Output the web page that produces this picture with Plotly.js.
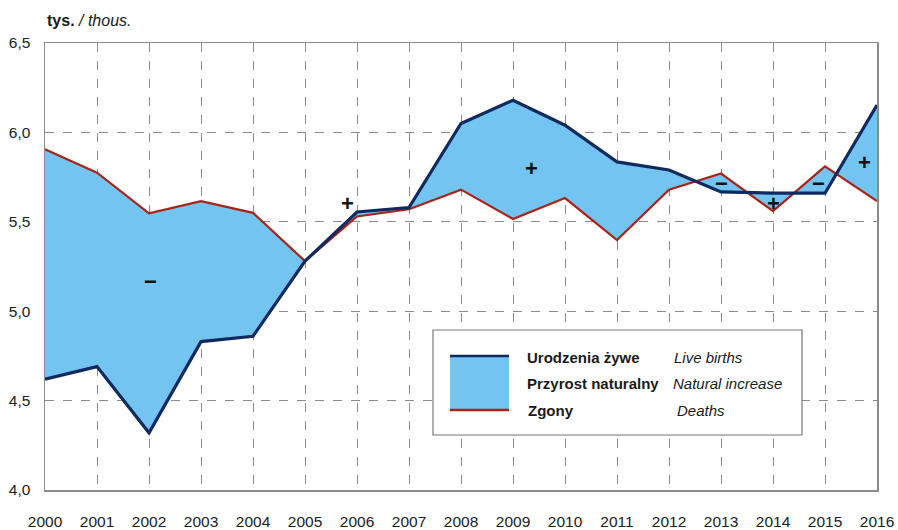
<!DOCTYPE html>
<html><head><meta charset="utf-8">
<script src="https://cdn.plot.ly/plotly-3.0.1.min.js"></script>
<style>html,body{margin:0;padding:0;background:#fff;}#chart{width:898px;height:530px;}</style>
</head><body><div id="chart"></div>
<script>
const years = [2000,2001,2002,2003,2004,2005,2006,2007,2008,2009,2010,2011,2012,2013,2014,2015,2016];
const liveBirths = [4.62,4.69,4.32,4.83,4.86,5.28,5.555,5.58,6.05,6.18,6.04,5.835,5.79,5.667,5.66,5.66,6.153];
const deaths = [5.906,5.775,5.547,5.616,5.55,5.28,5.53,5.57,5.68,5.516,5.633,5.398,5.68,5.77,5.56,5.81,5.616];
const yTicks = [4.0,4.5,5.0,5.5,6.0,6.5];

const FONT = 'Liberation Sans, Arial, sans-serif';
const NAVY = '#0f2a5e', RED = '#a82418', FILL = '#73c4f1';

const traces = [
  {x: years, y: deaths, mode: 'lines', line: {width: 0, color: RED}, hoverinfo: 'skip', showlegend: false},
  {x: years, y: liveBirths, mode: 'lines', fill: 'tonexty', fillcolor: FILL, line: {width: 0, color: NAVY}, hoverinfo: 'skip', showlegend: false},
  {x: years, y: deaths, mode: 'lines', line: {width: 2.2, color: RED}, showlegend: false, cliponaxis: false},
  {x: years, y: liveBirths, mode: 'lines', line: {width: 3.2, color: NAVY}, showlegend: false, cliponaxis: false}
];

const px = v => (v - 45) / 832;
const py = v => (490 - v) / 447;

const sign = (x, y, t) => ({x: x, y: y, xref: 'x', yref: 'y', text: '<b>' + t + '</b>', showarrow: false,
  font: {family: FONT, size: 22, color: '#111'}, xanchor: 'center', yanchor: 'middle'});

const legText = (x, y, t, bold) => ({x: px(x), y: py(y), xref: 'paper', yref: 'paper',
  text: bold ? '<b>' + t + '</b>' : '<i>' + t + '</i>', showarrow: false,
  font: {family: FONT, size: 15, color: '#1a1a1a'}, xanchor: 'left', yanchor: 'middle'});

const layout = {
  width: 898, height: 530,
  margin: {l: 45, r: 21, t: 43, b: 40},
  paper_bgcolor: '#fff', plot_bgcolor: '#fff',
  separators: ', ',
  showlegend: false,
  font: {family: FONT, size: 15, color: '#222'},
  xaxis: {range: [2000, 2016], tickvals: years, ticktext: years.map(String),
    showgrid: true, gridcolor: '#8c8c8c', griddash: 'dash', gridwidth: 1,
    showline: true, linecolor: '#8c8c8c', linewidth: 1.5, mirror: true,
    ticks: '', ticklabelstandoff: 17, zeroline: false,
    tickfont: {family: FONT, size: 15.5, color: '#222'}},
  yaxis: {range: [4.0, 6.5], tickvals: yTicks, tickformat: '.1f',
    showgrid: true, gridcolor: '#8c8c8c', griddash: 'dash', gridwidth: 1,
    showline: true, linecolor: '#8c8c8c', linewidth: 1.5, mirror: true,
    ticks: '', ticklabelstandoff: 10, zeroline: false,
    tickfont: {family: FONT, size: 15.5, color: '#222'}},
  shapes: [
    {type: 'rect', xref: 'paper', yref: 'paper', x0: px(433), x1: px(802), y0: py(435), y1: py(330),
      fillcolor: '#fff', line: {color: '#777', width: 1.2}, layer: 'above'},
    {type: 'rect', xref: 'paper', yref: 'paper', x0: px(450), x1: px(509), y0: py(410), y1: py(356),
      fillcolor: FILL, line: {width: 0}, layer: 'above'},
    {type: 'line', xref: 'paper', yref: 'paper', x0: px(450), x1: px(509), y0: py(356), y1: py(356),
      line: {color: NAVY, width: 2.5}, layer: 'above'},
    {type: 'line', xref: 'paper', yref: 'paper', x0: px(450), x1: px(509), y0: py(410), y1: py(410),
      line: {color: RED, width: 2.5}, layer: 'above'}
  ],
  annotations: [
    {x: px(45), y: py(21), xref: 'paper', yref: 'paper', xanchor: 'left', yanchor: 'middle', showarrow: false,
      text: '<b>tys.</b> <i>/ thous.</i>', font: {family: FONT, size: 16, color: '#1a1a1a'}},
    sign(2002.02, 5.165, '−'),
    sign(2005.82, 5.60, '+'),
    sign(2009.35, 5.80, '+'),
    sign(2013.0, 5.715, '−'),
    sign(2014.0, 5.605, '+'),
    sign(2014.88, 5.717, '−'),
    sign(2015.75, 5.829, '+'),
    legText(525, 357, 'Urodzenia żywe', true),
    legText(525, 383, 'Przyrost naturalny', true),
    legText(526, 410, 'Zgony', true),
    legText(672, 357, 'Live births', false),
    legText(671, 383, 'Natural increase', false),
    legText(675, 410, 'Deaths', false)
  ]
};

Plotly.newPlot('chart', traces, layout, {displayModeBar: false, staticPlot: true});
</script>
</body></html>
